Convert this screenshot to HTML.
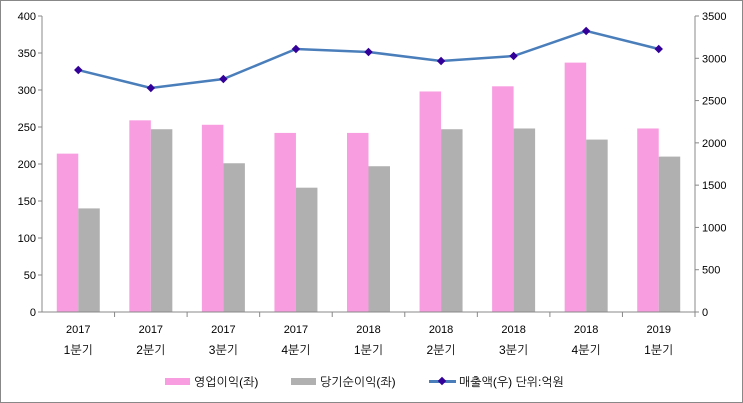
<!DOCTYPE html>
<html><head><meta charset="utf-8"><style>
body{margin:0;background:#fff}
svg{display:block;font-family:"Liberation Sans","NanumGothic","Noto Sans CJK KR",sans-serif}
</style></head><body>
<svg id="c" width="743" height="403">
<rect x="0.5" y="0.5" width="742" height="402" fill="#fff" stroke="#888"/>
<g id="g"></g>
<g font-size="12" fill="#000">
<rect x="165" y="378" width="25" height="7" fill="#f89de0"/>
<text x="194" y="386">영업이익(좌)</text>
<rect x="291" y="378" width="25" height="7" fill="#b0b0b0"/>
<text x="320" y="386">당기순이익(좌)</text>
<line x1="429" y1="381.5" x2="456" y2="381.5" stroke="#4a7ebb" stroke-width="3"/>
<rect x="439" y="378" width="6" height="6" fill="#330099" transform="rotate(45 442 381)"/>
<text x="459" y="386">매출액(우)  단위:억원</text>
</g>
</svg>
<script>
const years=["2017","2017","2017","2017","2018","2018","2018","2018","2019"];
const quarters=["1분기","2분기","3분기","4분기","1분기","2분기","3분기","4분기","1분기"];
const opProfit=[214,259,253,242,242,298,305,337,248];
const netProfit=[140,247,201,168,197,247,248,233,210];
const sales=[2861,2649,2755,3110,3074,2968,3027,3323,3110];
const leftTicks=[0,50,100,150,200,250,300,350,400];
const rightTicks=[0,500,1000,1500,2000,2500,3000,3500];
const NS="http://www.w3.org/2000/svg",g=document.getElementById('g');
const X0=42,X1=695,Y0=312,Y1=16,cw=(X1-X0)/years.length;
const yl=v=>Y0-(v/400)*(Y0-Y1), yr=v=>Y0-(v/3500)*(Y0-Y1), xc=i=>X0+cw*(i+0.5);
function mk(t,a){const e=document.createElementNS(NS,t);for(const k in a)e.setAttribute(k,a[k]);g.appendChild(e);return e;}
mk('line',{x1:X0,y1:Y1,x2:X0,y2:Y0,stroke:'#888'});
mk('line',{x1:X1,y1:Y1,x2:X1,y2:Y0,stroke:'#888'});
leftTicks.forEach(v=>{mk('line',{x1:X0-4,x2:X0,y1:yl(v),y2:yl(v),stroke:'#888'});
const t=mk('text',{x:X0-6,y:yl(v)+4,'text-anchor':'end','font-size':11});t.textContent=v;

});
rightTicks.forEach(v=>{mk('line',{x1:X1,x2:X1+4,y1:yr(v),y2:yr(v),stroke:'#888'});
const t=mk('text',{x:X1+7,y:yr(v)+4,'font-size':11});t.textContent=v;

});
years.forEach((y,i)=>{
const b1=mk('rect',{x:xc(i)-21.5,y:yl(opProfit[i]),width:21.5,height:Y0-yl(opProfit[i]),fill:'#f89de0'});


const b2=mk('rect',{x:xc(i),y:yl(netProfit[i]),width:21.5,height:Y0-yl(netProfit[i]),fill:'#b0b0b0'});


mk('line',{x1:X0+cw*(i+1),x2:X0+cw*(i+1),y1:Y0,y2:Y0+5,stroke:'#888'});
const t1=mk('text',{x:xc(i),y:333,'text-anchor':'middle','font-size':11});t1.textContent=y;


const t2=mk('text',{x:xc(i),y:354,'text-anchor':'middle','font-size':12});t2.textContent=quarters[i];


});
mk('line',{x1:X0,y1:Y0,x2:X1,y2:Y0,stroke:'#888'});
const pl=mk('polyline',{points:sales.map((v,i)=>xc(i)+','+yr(v)).join(' '),fill:'none',stroke:'#4a7ebb','stroke-width':2.5});


sales.forEach((v,i)=>{const m=mk('rect',{x:xc(i)-3,y:yr(v)-3,width:6,height:6,fill:'#330099',transform:`rotate(45 ${xc(i)} ${yr(v)})`});

});
</script>
</body></html>
